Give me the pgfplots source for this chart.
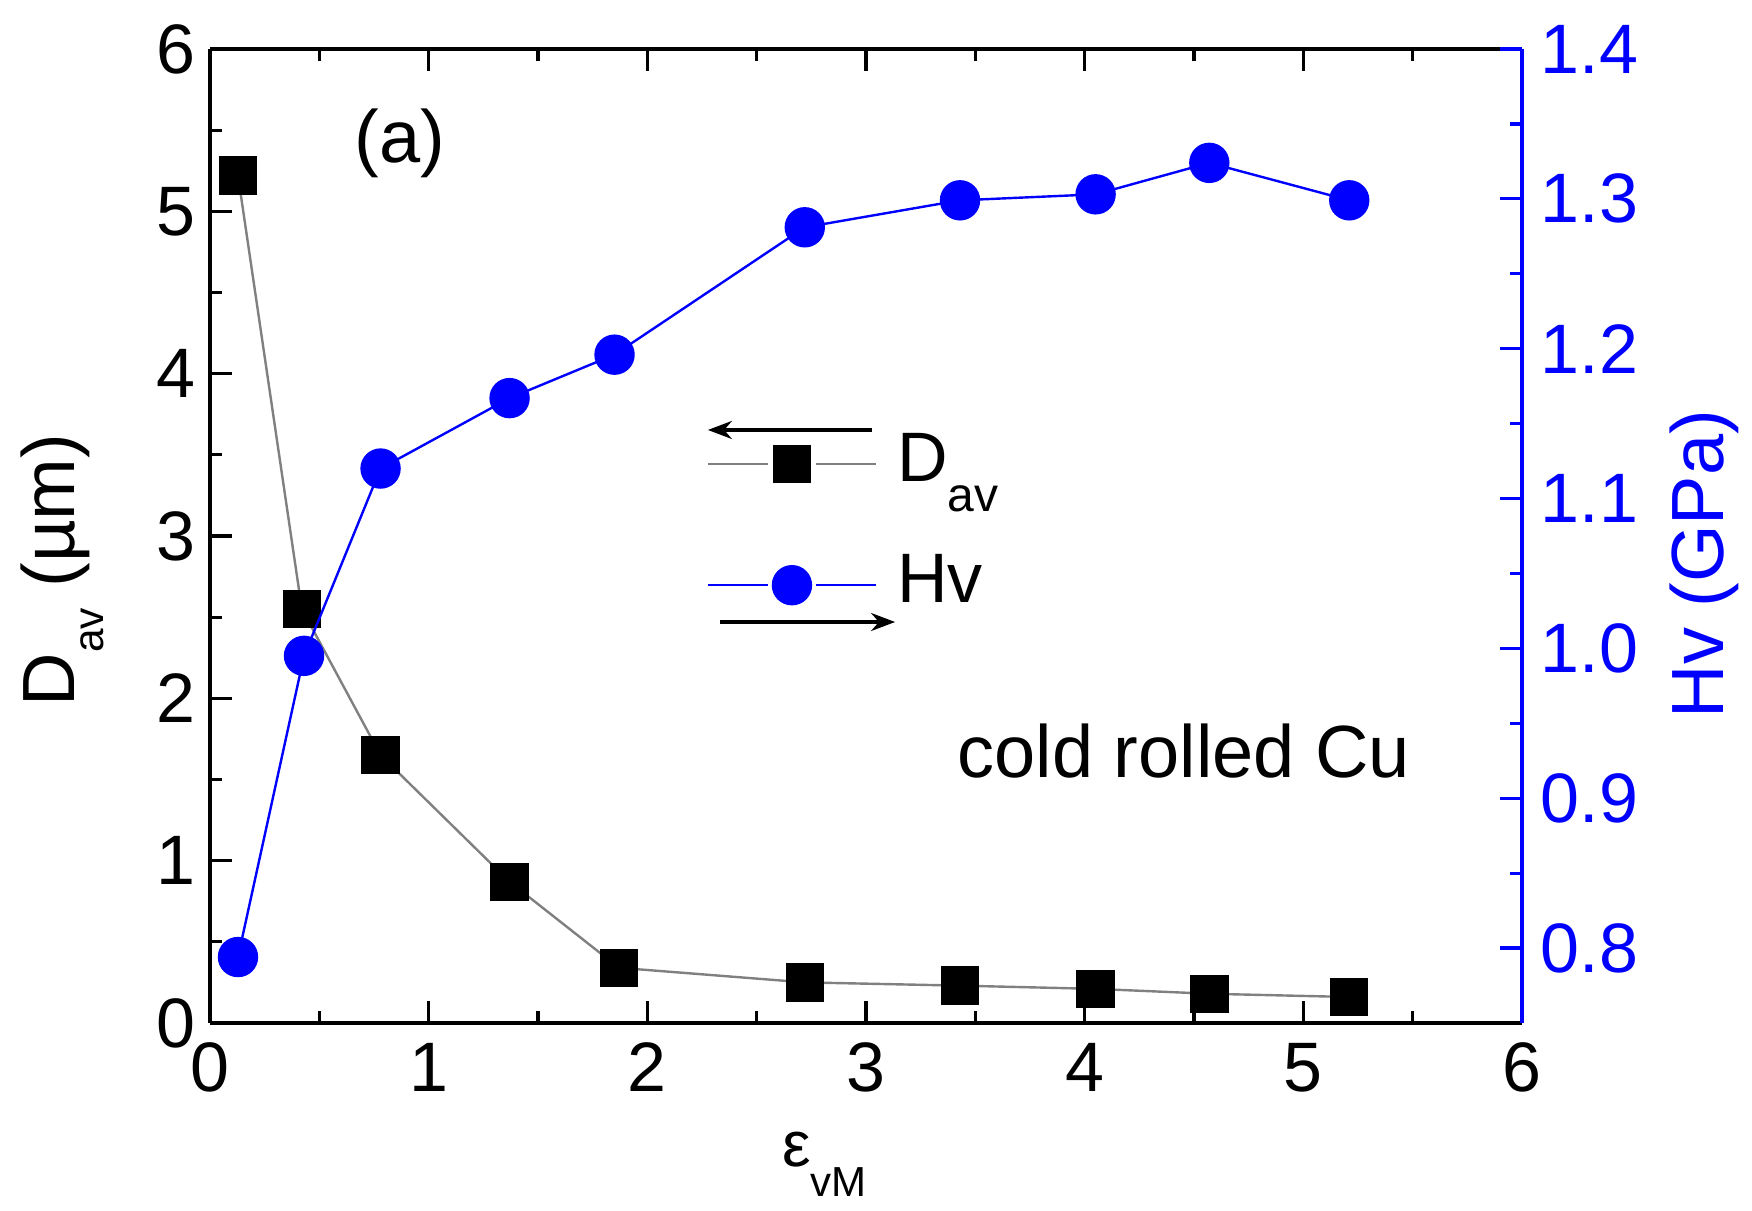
\documentclass[border=0pt]{standalone}
\usepackage{fontspec}
\setmainfont{Liberation Sans}
\usepackage{pgfplots}
\pgfplotsset{compat=1.18}
\usetikzlibrary{arrows.meta}
\definecolor{hvblue}{RGB}{0,0,255}
\newcommand{\lowsub}[3]{\raisebox{-#1}{\fontsize{#2}{#2}\selectfont #3}}
\begin{document}
\begin{tikzpicture}
\pgfplotsset{
  every axis/.append style={
    scale only axis, width=328pt, height=243.5pt,
    xmin=0, xmax=6,
    /pgf/number format/assume math mode=true,
    tick label style={font=\fontsize{17.5}{20}\selectfont},
    label style={font=\fontsize{18.5}{22}\selectfont},
    major tick length=5.5pt, minor tick length=3pt,
    tick align=inside,
    axis line style={line width=1pt},
    every tick/.style={line width=0.8pt},
  }
}
\begin{axis}[
  name=main,
  ymin=0, ymax=6,
  xtick={0,1,2,3,4,5,6}, ytick={0,1,2,3,4,5,6},
  minor x tick num=1, minor y tick num=1,
  axis y line*=left,
  xticklabel style={yshift=-1.5pt},
  xlabel={{\fontsize{16}{18}\selectfont ε}\lowsub{7.5pt}{10.5}{vM}},
  ylabel={D\lowsub{7.2pt}{10.6}{av} (µm)},
  xlabel style={xshift=-10.4pt, yshift=-3pt},
  ylabel style={yshift=6.4pt, xshift=-8.5pt},
  legend style={draw=none, fill=none, at={(axis cs:2.268,3.07)}, anchor=west,
    inner sep=0pt, row sep=8.8pt, font=\fontsize{17.5}{21}\selectfont,
    nodes={text height=13pt, text depth=4.5pt},
    cells={anchor=west},
    /tikz/every odd column/.style={column sep=3pt}},
  legend image code/.code={%
    \draw[#1] (0pt,0pt) -- (15pt,0pt);
    \draw[#1] (27pt,0pt) -- (42pt,0pt);
    \draw[#1, only marks] plot coordinates {(21pt,0pt)};},
]
\addplot[gray, line width=0.6pt, mark=square*, mark size=4.5pt, mark options={black, solid}]
  coordinates {
  (0.128,5.22) (0.42,2.55) (0.78,1.65) (1.37,0.87) (1.87,0.34)
  (2.72,0.25) (3.43,0.23) (4.05,0.21) (4.57,0.18) (5.21,0.16)
  };
\addlegendentry{D\lowsub{7.5pt}{12}{av}}
\addlegendimage{hvblue, line width=0.6pt, mark=*, mark size=4.75pt}
\addlegendentry{Hv}
\draw[line width=0.8pt, -{Stealth[length=6pt,width=4.5pt]}] (axis cs:3.027,3.653) -- (axis cs:2.277,3.653);
\draw[line width=0.8pt, -{Stealth[length=6pt,width=4.5pt]}] (axis cs:2.332,2.470) -- (axis cs:3.133,2.470);
\node[font=\fontsize{18.5}{22}\selectfont] at (axis cs:0.869,5.42) {(a)};
\node[font=\fontsize{18.5}{22}\selectfont] at (axis cs:4.454,1.676) {cold rolled Cu};
\end{axis}
\begin{axis}[
  ymin=0.75, ymax=1.4,
  axis y line*=right, axis x line=none,
  ytick={0.8,0.9,1.0,1.1,1.2,1.3,1.4},
  minor y tick num=1,
  yticklabel style={text=hvblue, xshift=1.2pt, /pgf/number format/.cd, fixed, fixed zerofill, precision=1},
  y axis line style={hvblue},
  ytick style={hvblue},
  ylabel style={text=hvblue, xshift=-7pt, yshift=-1pt},
  ylabel={Hv (GPa)},
]
\addplot[hvblue, line width=0.6pt, mark=*, mark size=4.75pt]
  coordinates {
  (0.128,0.794) (0.43,0.995) (0.78,1.120) (1.37,1.167) (1.85,1.196)
  (2.72,1.281) (3.43,1.299) (4.05,1.303) (4.57,1.324) (5.21,1.299)
  };
\end{axis}
\pgfresetboundingbox
\path ([shift={(-52.5pt,-47pt)}]main.south west) rectangle ([shift={(57.5pt,12.25pt)}]main.north east);
\end{tikzpicture}
\end{document}
